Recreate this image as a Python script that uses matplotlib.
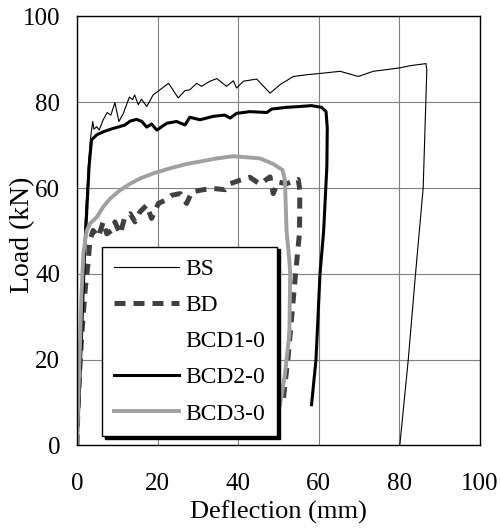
import numpy as np
import matplotlib
matplotlib.use('Agg')
import matplotlib.pyplot as plt

plt.rcParams['font.family'] = ['Liberation Serif', 'DejaVu Serif']

# deflection (mm), load (kN)
bs_x = [0, 0.5, 1.2, 2.0, 2.8, 3.4, 3.9, 4.2, 4.9, 5.5, 6.5, 7.5, 8.4, 9.4, 10.4, 11.5, 13.0, 13.8,
        14.3, 15.2, 16.0, 17.3, 18.9, 20.6, 22.7, 23.5, 25.1, 26.8, 28.0, 29.7, 30.9, 33.0, 34.7,
        37.1, 38.8, 39.6, 41.3, 44.6, 47.9, 50.4, 53.7, 57.0, 60.3, 65.3, 69.8, 73.5, 80.1, 82.6,
        86.6, 86.8, 85.9, 84.0, 82.2, 80.1]
bs_y = [0, 15, 35, 52, 65, 72, 75.5, 73.7, 74.3, 73.5, 75.9, 77.6, 77.0, 79.9, 75.5, 77.4, 81.2, 80.6,
        81.7, 79.4, 80.7, 79.0, 81.7, 82.9, 84.4, 83.3, 81.0, 82.7, 82.9, 84.4, 83.7, 84.9, 85.5,
        83.7, 85.0, 83.3, 84.9, 85.4, 82.1, 84.1, 86.0, 86.4, 86.7, 87.2, 86.0, 87.2, 88.0, 88.5,
        89.0, 87.5, 60, 40, 20, 0]

bd_x = [0, 0.2, 0.7, 1.2, 2.0, 2.8, 3.2, 4.0, 5.3, 6.5, 7.4, 8.6, 9.4, 10.7, 11.9, 13.2, 14.4, 15.6,
        17.3, 18.5, 20.2, 21.8, 23.5, 25.6, 27.2, 28.5, 31.3, 33.8, 36.7, 38.0, 40.4, 42.9, 45.4,
        47.9, 48.7, 49.9, 52.0, 54.9, 55.3, 55.2, 54.3, 53.3, 52.4, 51.2]
bd_y = [0, 8, 18, 26, 36, 43, 47.8, 50.1, 48.6, 52.1, 49.3, 50.1, 52.1, 49.3, 53.3, 54.0, 52.1, 54.4,
        56.0, 52.9, 56.4, 57.1, 58.3, 58.7, 56.4, 59.1, 59.6, 59.9, 59.6, 61.0, 61.8, 62.5, 60.9,
        62.6, 58.7, 61.4, 61.0, 62.0, 59.5, 49.4, 40.7, 30.2, 20.8, 10.8]

bcd1_x = []
bcd1_y = []

bcd2_x = [0, 0.4, 0.9, 1.4, 1.9, 2.5, 3.0, 3.6, 4.9, 6.5, 9.0, 10.2, 11.9, 13.2, 14.8, 16.1, 17.3,
          18.5, 19.8, 22.3, 24.7, 26.8, 28.0, 30.5, 33.8, 36.7, 38.0, 39.6, 42.9, 47.1, 48.3, 52.0,
          55.3, 58.2, 60.7, 61.8, 62.1, 62.0, 61.2, 60.3, 59.3, 58.2]
bcd2_y = [0, 8, 20, 33, 45, 56, 65, 71.2, 72.4, 73.1, 73.9, 74.2, 74.7, 75.6, 76.0, 75.5, 74.2,
          74.9, 73.5, 75.1, 75.5, 74.7, 76.5, 75.9, 76.7, 77.0, 76.3, 77.4, 77.8, 77.6, 78.4, 78.8,
          79.0, 79.2, 78.8, 77.8, 74, 65, 50, 40, 20, 9.5]

bcd3_x = [0, 0.3, 0.7, 1.1, 1.6, 2.4, 3.2, 4.9, 6.5, 8.2, 10.7, 13.2, 15.6, 18.9, 23.1, 27.2, 31.3,
          34.7, 38.8, 42.9, 45.4, 48.7, 51.0, 51.6, 52.0, 52.7, 52.9, 52.7, 51.6, 50.4]
bcd3_y = [0, 10, 22, 35, 45, 50, 51.7, 53.2, 55.6, 57.5, 59.5, 61.0, 62.2, 63.4, 64.6, 65.6, 66.3,
          66.9, 67.4, 67.1, 66.9, 65.6, 64.2, 61.8, 50, 43, 40, 26, 16.6, 9.5]

fig = plt.figure(figsize=(5, 5.29), dpi=100)
ax = fig.add_axes([0.154, 0.158, 0.806, 0.811])

ax.plot(bs_x, bs_y, color='black', lw=0.8, label='BS')
ax.plot(bd_x, bd_y, color='#404040', lw=3.6, dashes=(2.2, 1.6), label='BD')
ax.plot(bcd1_x, bcd1_y, color='white', lw=2, label='BCD1-0')
ax.plot(bcd2_x, bcd2_y, color='black', lw=2.2, label='BCD2-0')
ax.plot(bcd3_x, bcd3_y, color='#a0a0a0', lw=2.8, label='BCD3-0')

ax.set_xlim(0, 100)
ax.set_ylim(0, 100)
ax.set_xticks(np.arange(0, 101, 20))
ax.set_yticks(np.arange(0, 101, 20))
ax.tick_params(axis='both', length=0, labelsize=18)
ax.tick_params(axis='x', pad=20)
ax.tick_params(axis='y', pad=12)
ax.grid(True, color='#808080', lw=0.8)
ax.set_axisbelow(True)
for s in ax.spines.values():
    s.set_color('black')
    s.set_linewidth(1.0)

ax.set_xlabel('Deflection (mm)', fontsize=19)
ax.set_ylabel('Load (kN)', fontsize=20)
ax.xaxis.set_label_coords(0.5, -0.128)
ax.yaxis.set_label_coords(-0.136, 0.49)
ax.yaxis.label.set_va('center')

leg = ax.legend(loc='lower left', bbox_to_anchor=(0.062, 0.021), borderaxespad=0,
                fontsize=17, frameon=True, fancybox=False, handlelength=2.75,
                handletextpad=0.3, labelspacing=0.62, borderpad=0.5,
                shadow={'color': 'black', 'alpha': 1})
leg.get_frame().set_edgecolor('black')
leg.get_frame().set_linewidth(1.0)
leg.get_frame().set_alpha(1)

plt.savefig('out.png', dpi=100)
